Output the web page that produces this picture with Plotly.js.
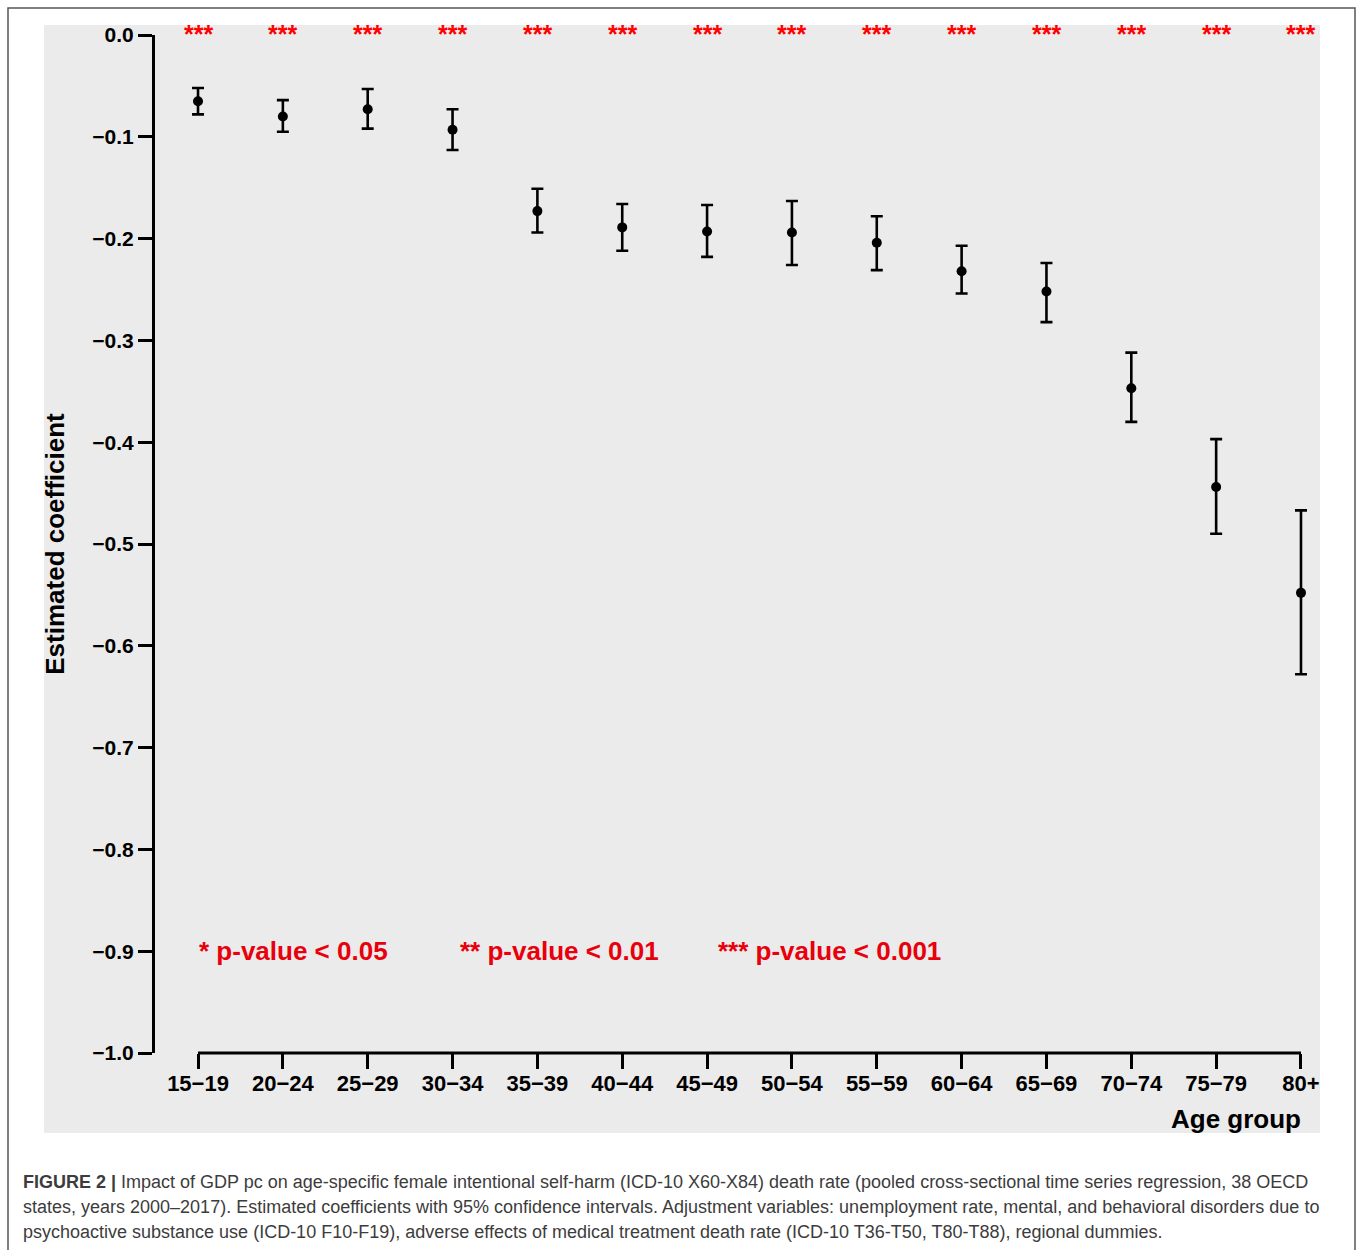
<!DOCTYPE html>
<html>
<head>
<meta charset="utf-8">
<script src="https://cdn.plot.ly/plotly-3.0.1.min.js"></script>
<style>
  html, body { margin: 0; padding: 0; background: #ffffff; }
  #chart { width: 1358px; height: 1250px; }
</style>
</head>
<body>
<div id="chart"></div>
<script>
// ---- data ----
const ageGroups = ["15\u221219", "20\u221224", "25\u221229", "30\u221234", "35\u221239", "40\u221244", "45\u221249",
                   "50\u221254", "55\u221259", "60\u221264", "65\u221269", "70\u221274", "75\u221279", "80+"];
const coefficient = [-0.065, -0.080, -0.073, -0.093, -0.173, -0.189, -0.193, -0.194, -0.204, -0.232, -0.252, -0.347, -0.444, -0.548];
const ciUpper     = [-0.052, -0.064, -0.053, -0.073, -0.151, -0.166, -0.167, -0.163, -0.178, -0.207, -0.224, -0.312, -0.397, -0.467];
const ciLower     = [-0.078, -0.095, -0.092, -0.113, -0.194, -0.212, -0.218, -0.226, -0.231, -0.254, -0.282, -0.380, -0.490, -0.628];
const significance = ["***", "***", "***", "***", "***", "***", "***", "***", "***", "***", "***", "***", "***", "***"];
const pLegend = ["* p-value < 0.05", "** p-value < 0.01", "*** p-value < 0.001"];
const pLegendX = [-0.01, 3.07, 6.10];
const pLegendY = -0.9;
const yTicks = [0, -0.1, -0.2, -0.3, -0.4, -0.5, -0.6, -0.7, -0.8, -0.9, -1.0];
const captionLines = [
  "<b>FIGURE 2 |</b> Impact of GDP pc on age-specific female intentional self-harm (ICD-10 X60-X84) death rate (pooled cross-sectional time series regression, 38 OECD",
  "states, years 2000\u20132017). Estimated coefficients with 95% confidence intervals. Adjustment variables: unemployment rate, mental, and behavioral disorders due to",
  "psychoactive substance use (ICD-10 F10-F19), adverse effects of medical treatment death rate (ICD-10 T36-T50, T80-T88), regional dummies."
];

// ---- layout geometry ----
const W = 1358, H = 1250;
const mL = 155, mR = 38, mT = 35, mB = 197;
const pw = W - mL - mR, ph = H - mT - mB;
const px2paperX = p => (p - mL) / pw;
const px2paperY = p => (H - mB - p) / ph;

const errPlus = coefficient.map((c, i) => ciUpper[i] - c);
const errMinus = coefficient.map((c, i) => c - ciLower[i]);

const trace = {
  type: "scatter",
  mode: "markers",
  x: ageGroups,
  y: coefficient,
  marker: { color: "#000000", size: 10 },
  error_y: { type: "data", symmetric: false, array: errPlus, arrayminus: errMinus,
             color: "#000000", thickness: 2.6, width: 6 },
  cliponaxis: false,
  hoverinfo: "x+y"
};

const font = "Liberation Sans, Arial, sans-serif";

const annotations = [];
ageGroups.forEach((g, i) => {
  annotations.push({
    x: g, y: 0, xref: "x", yref: "y", text: "<b>" + significance[i] + "</b>",
    showarrow: false, xanchor: "center", yanchor: "middle", yshift: 1,
    font: { family: font, size: 25, color: "#ff0000" }
  });
});
pLegend.forEach((t, i) => {
  annotations.push({
    x: pLegendX[i], y: pLegendY, xref: "x", yref: "y", text: "<b>" + t + "</b>",
    showarrow: false, xanchor: "left", yanchor: "middle",
    font: { family: font, size: 26, color: "#e8000b" }
  });
});
annotations.push({
  x: ageGroups[ageGroups.length - 1], y: px2paperY(1119), xref: "x", yref: "paper",
  text: "<b>Age group</b>", showarrow: false, xanchor: "right", yanchor: "middle", xshift: 2,
  font: { family: font, size: 26, color: "#000000" }
});
const captionY = [1182, 1207, 1232];
captionLines.forEach((t, i) => {
  annotations.push({
    x: px2paperX(21), y: px2paperY(captionY[i]), xref: "paper", yref: "paper",
    text: t, showarrow: false, xanchor: "left", yanchor: "middle", align: "left",
    font: { family: font, size: 18, color: "#3c3c3c" }
  });
});

const shapes = [
  // outer frame
  { type: "rect", xref: "paper", yref: "paper", layer: "below",
    x0: px2paperX(8), x1: px2paperX(1355), y0: px2paperY(1262), y1: px2paperY(8),
    line: { color: "#555555", width: 1.5 }, fillcolor: "rgba(0,0,0,0)" },
  // grey panel
  { type: "rect", xref: "paper", yref: "paper", layer: "below",
    x0: px2paperX(44), x1: px2paperX(1320), y0: px2paperY(1133), y1: px2paperY(25),
    line: { width: 0 }, fillcolor: "#ebebeb" },
  // x axis line (first to last tick)
  { type: "line", xref: "x", yref: "paper", layer: "above",
    x0: ageGroups[0], x1: ageGroups[ageGroups.length - 1], y0: 0, y1: 0,
    line: { color: "#000000", width: 3 } }
];

const layout = {
  width: W, height: H,
  margin: { l: mL, r: mR, t: mT, b: mB, pad: 0 },
  paper_bgcolor: "#ffffff",
  plot_bgcolor: "rgba(0,0,0,0)",
  showlegend: false,
  font: { family: font, color: "#000000" },
  xaxis: {
    type: "category",
    range: [-0.507, 13.224],
    showgrid: false, zeroline: false, showline: false,
    ticks: "outside", ticklen: 15, tickwidth: 3, tickcolor: "#000000",
    ticklabelstandoff: -4,
    tickfont: { family: font, size: 22, color: "#000000", weight: "bold" },
    fixedrange: true
  },
  yaxis: {
    range: [-1, 0],
    tickvals: yTicks,
    tickformat: ".1f",
    showgrid: false, zeroline: false,
    showline: true, linecolor: "#000000", linewidth: 3,
    ticks: "outside", ticklen: 14, tickwidth: 3, tickcolor: "#000000",
    tickfont: { family: font, size: 21, color: "#000000", weight: "bold" },
    title: { text: "<b>Estimated coefficient</b>", font: { family: font, size: 26, color: "#000000" }, standoff: 21 },
    fixedrange: true
  },
  annotations: annotations,
  shapes: shapes
};

Plotly.newPlot("chart", [trace], layout, { displayModeBar: false, staticPlot: true });
</script>
</body>
</html>
